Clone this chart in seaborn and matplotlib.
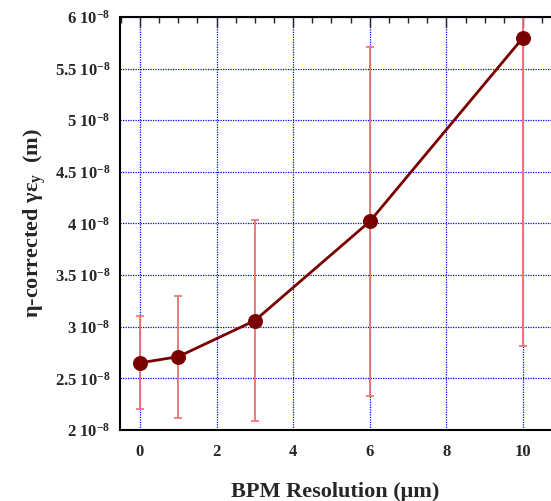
import numpy as np
import pandas as pd
import matplotlib
matplotlib.use('Agg')
import matplotlib.pyplot as plt
import seaborn as sns
from matplotlib.ticker import MultipleLocator, FuncFormatter

# Data
resolution = [0, 1, 3, 6, 10]
emittance = [2.65e-8, 2.71e-8, 3.06e-8, 4.02e-8, 5.80e-8]
err = [0.45e-8, 0.59e-8, 0.97e-8, 1.69e-8, 2.99e-8]

df = pd.DataFrame({'res': resolution, 'emit': emittance, 'err': err})

sns.set_style('white')
plt.rcParams['font.family'] = ['Liberation Serif', 'DejaVu Serif']
plt.rcParams['font.weight'] = 'bold'
plt.rcParams['mathtext.fontset'] = 'custom'
plt.rcParams['mathtext.rm'] = 'Liberation Serif:bold'
plt.rcParams['mathtext.it'] = 'Liberation Serif:bold'
plt.rcParams['mathtext.bf'] = 'Liberation Serif:bold'

fig = plt.figure(figsize=(5.51, 5.01), dpi=100)
ax = fig.add_axes([120 / 551, 71 / 501, 431 / 551, 413 / 501])

ax.errorbar(df['res'], df['emit'], yerr=df['err'], fmt='none',
            ecolor='#ef6f6f', elinewidth=1.3, capsize=3, capthick=1.2, zorder=2)
sns.lineplot(data=df, x='res', y='emit', ax=ax, color='#7a0000', linewidth=2,
             marker='o', markersize=10, markeredgecolor='#7a0000', zorder=3)

ax.set_xlim(-0.52, 10.73)
ax.set_ylim(2e-8, 6e-8)

ax.xaxis.set_major_locator(MultipleLocator(2))
ax.xaxis.set_minor_locator(MultipleLocator(0.5))
ax.yaxis.set_major_locator(MultipleLocator(0.5e-8))
ax.yaxis.set_minor_locator(MultipleLocator(0.1e-8))

def ylab(v, pos):
    m = round(v / 1e-8, 1)
    s = f'{m:g}'
    return s + r' 10$^{-8}$'

ax.yaxis.set_major_formatter(FuncFormatter(ylab))

ax.grid(True, which='major', color='#0000ff', linestyle=(0, (1, 1)), linewidth=0.9)
ax.set_axisbelow(True)

ax.tick_params(which='both', direction='in', top=True, right=False,
               labelsize=12, width=1)
ax.tick_params(which='major', length=7)
ax.tick_params(axis='x', which='major', pad=10)
ax.tick_params(axis='y', which='major', pad=7)
ax.tick_params(which='minor', length=4)
for lbl in ax.get_xticklabels() + ax.get_yticklabels():
    lbl.set_fontweight('bold')

for side in ['left', 'bottom', 'top']:
    ax.spines[side].set_linewidth(1.5)
    ax.spines[side].set_color('black')
ax.spines['right'].set_visible(False)

ax.set_xlabel('BPM Resolution (μm)', fontsize=16, fontweight='bold', labelpad=16)
ax.set_ylabel(r'η-corrected γε$_{y}$  (m)', fontsize=16, fontweight='bold', labelpad=5)

fig.savefig('out.png', dpi=100)
